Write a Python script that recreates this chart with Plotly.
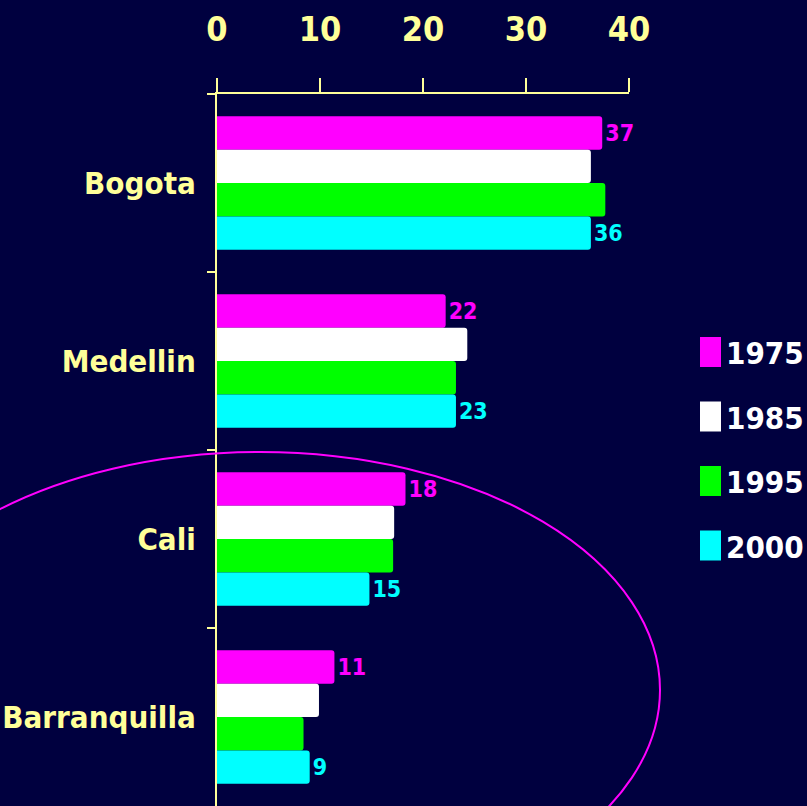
import plotly.graph_objects as go

# data
cities = ['Bogota', 'Medellin', 'Cali', 'Barranquilla']
years = ['1975', '1985', '1995', '2000']
v1975 = [37.4, 22.2, 18.3, 11.4]
v1985 = [36.3, 24.3, 17.2, 9.9]
v1995 = [37.7, 23.2, 17.1, 8.4]
v2000 = [36.3, 23.2, 14.8, 9.0]
values = [v1975, v1985, v1995, v2000]
labelled = [True, False, False, True]

COLORS = ['#ff00ff', '#ffffff', '#00ff00', '#00ffff']
BG = '#00003f'
YELLOW = '#ffff99'
FONT = 'DejaVu Sans Condensed, Liberation Sans Narrow, sans-serif'

W, H = 807, 806
L, R, T, B = 217, 178, 94, 0


def px_x(x):
    return (x - L) / (W - L - R)


def px_y(y):
    return (H - B - y) / (H - T - B)


fig = go.Figure()
for year, vals, color, lab in zip(years, values, COLORS, labelled):
    fig.add_trace(go.Bar(
        name=year,
        y=cities,
        x=vals,
        orientation='h',
        marker=dict(color=color, cornerradius=3, line=dict(width=0)),
        texttemplate='%{x:.0f}' if lab else None,
        textposition='outside' if lab else 'none',
        textfont=dict(color=color, size=23, family=FONT, weight='bold'),
        cliponaxis=False,
    ))

# ellipse around Cali / Barranquilla
fig.add_shape(type='circle', xref='paper', yref='paper',
              x0=px_x(-140), x1=px_x(660), y0=px_y(928), y1=px_y(452),
              line=dict(color='#ff00ff', width=2))

# hand drawn legend
for i, (year, color) in enumerate(zip(years, COLORS)):
    cy = 352 + i * 64.5
    fig.add_shape(type='rect', xref='paper', yref='paper',
                  x0=px_x(700), x1=px_x(721), y0=px_y(cy + 15), y1=px_y(cy - 15),
                  fillcolor=color, line=dict(width=0))
    fig.add_annotation(x=px_x(724), y=px_y(cy + 1), xref='paper', yref='paper',
                       text=year, showarrow=False, xanchor='left',
                       font=dict(color='white', size=31, family=FONT, weight='bold'))

fig.update_layout(
    width=W, height=H,
    margin=dict(l=L, r=R, t=T, b=B),
    paper_bgcolor=BG, plot_bgcolor=BG,
    barmode='group', bargap=0.25, bargroupgap=0,
    showlegend=False,
    font=dict(family=FONT, color=YELLOW),
    xaxis=dict(side='top', range=[0, 40], tickvals=[0, 10, 20, 30, 40],
               showgrid=False, zeroline=False, showline=True,
               linecolor=YELLOW, linewidth=2, ticks='outside', ticklen=14,
               tickwidth=2, tickcolor=YELLOW, ticklabelstandoff=23,
               tickfont=dict(size=34, color=YELLOW, family=FONT, weight='bold')),
    yaxis=dict(autorange='reversed', showgrid=False, zeroline=False,
               showline=True, linecolor=YELLOW, linewidth=2,
               ticks='outside', ticklen=8, tickwidth=2, tickcolor=YELLOW,
               tickson='boundaries', ticklabelstandoff=13,
               tickfont=dict(size=31, color=YELLOW, family=FONT, weight='bold')),
)

fig.write_html('out.html', config={'displayModeBar': False},
               post_script="document.body.style.margin='0';")
